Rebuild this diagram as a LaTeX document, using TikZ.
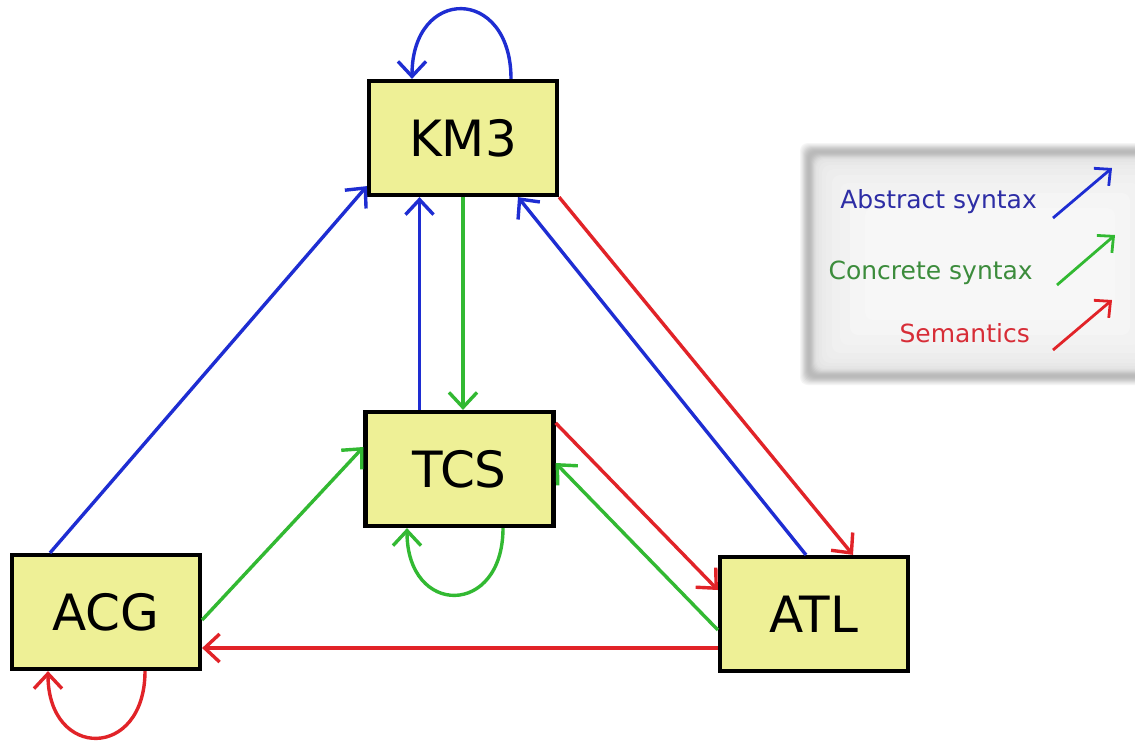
\documentclass[tikz,border=0pt]{standalone}
\usepackage{fontspec}
\setmainfont{DejaVu Sans}
\usetikzlibrary{arrows.meta,calc}

\definecolor{boxfill}{RGB}{238,240,150}
\definecolor{abs}{RGB}{30,45,210}
\definecolor{conc}{RGB}{50,185,50}
\definecolor{sem}{RGB}{225,35,40}
\definecolor{abstext}{RGB}{45,45,165}
\definecolor{conctext}{RGB}{60,140,60}
\definecolor{semtext}{RGB}{215,45,55}

\tikzset{
  lang/.style={draw=black, line width=4.2pt, fill=boxfill,
    minimum width=188pt, minimum height=114pt, inner sep=0pt,
    font=\fontsize{50}{60}\selectfont},
  link/.style={line width=3.4pt, -{Straight Barb[length=15pt,width=28pt,line width=3.4pt]}},
  keylink/.style={line width=2.8pt, -{Straight Barb[length=12pt,width=23pt,line width=2.8pt]}},
  keytext/.style={anchor=east, inner sep=0pt, font=\fontsize{25}{30}\selectfont},
}

\begin{document}
\begin{tikzpicture}[x=1pt, y=-1pt]
\useasboundingbox (0,0) rectangle (1135,740);
\clip (0,0) rectangle (1135,740);
\fill[white] (0,0) rectangle (1135,740);

% legend panel with a soft grey frame
\foreach \d/\c in {0/4,1/7,2/10,3/14,4/18,5/21,6/24,7/26,8/27,9/27,10/26,11/24,12/21,13/18,14/15,15/13,16/11,17/10,19/9,22/8,26/7,32/6,40/5,50/4,65/3}
  \fill[black!\c, rounded corners=8pt] (800+\d,143+\d) rectangle (1180-\d,385-\d);

% languages
\node[lang] (km3) at (463,138) {KM3};
\node[lang] (tcs) at (459.5,469) {TCS};
\node[lang] (acg) at (106,612) {ACG};
\node[lang] (atl) at (814,614) {ATL};

% attachment points
\coordinate (tcsup) at ($(tcs.north)+(-40,0)$);
\coordinate (atlleft) at ($(atl.west)+(0,34)$);

% abstract syntax
\draw[link, abs] ($(km3.north)+(48,0)$) .. controls ($(km3.north)+(48,-93)$) and ($(km3.north)+(-51,-93)$) .. ($(km3.north)+(-51,0)$);
\draw[link, abs] ($(acg.north)+(-56,0)$) -- ($(km3.south west)+(0,-11)$);
\draw[link, abs] (tcsup) -- (tcsup |- km3.south);
\draw[link, abs] ($(atl.north)+(-8,0)$) -- ($(km3.south)+(55,0)$);

% concrete syntax
\draw[link, conc] (km3.south) -- (km3.south |- tcs.north);
\draw[link, conc] ($(acg.east)+(0,8)$) -- ($(tcs.west)+(0,-22)$);
\draw[link, conc] ($(atl.west)+(0,16)$) -- ($(tcs.east)+(0,-6)$);
\draw[link, conc] ($(tcs.south)+(43.5,0)$) .. controls ($(tcs.south)+(43.5,89)$) and ($(tcs.south)+(-52.5,89)$) .. ($(tcs.south)+(-52.5,0)$);

% semantics
\draw[link, sem] (km3.south east) -- ($(atl.north)+(39,0)$);
\draw[link, sem] ($(tcs.north east)+(0,13)$) -- ($(atl.west)+(0,-24)$);
\draw[link, sem] (atlleft) -- (atlleft -| acg.east);
\draw[link, sem] ($(acg.south)+(39,0)$) .. controls ($(acg.south)+(39,89)$) and ($(acg.south)+(-58,89)$) .. ($(acg.south)+(-58,0)$);

% legend
\node[keytext, abstext] (kabs) at (1037,202) {Abstract syntax};
\node[keytext, conctext] (kconc) at (1033,273) {Concrete syntax};
\node[keytext, semtext] (ksem) at (1030,333) {Semantics};
\coordinate (kabs1) at (1053,218);  \coordinate (kabs2) at (1112,168);
\coordinate (kconc1) at (1057,285); \coordinate (kconc2) at (1115,235);
\coordinate (ksem1) at (1053,350);  \coordinate (ksem2) at (1112,300);
\draw[keylink, abs] (kabs1) -- (kabs2);
\draw[keylink, conc] (kconc1) -- (kconc2);
\draw[keylink, sem] (ksem1) -- (ksem2);
\end{tikzpicture}
\end{document}
